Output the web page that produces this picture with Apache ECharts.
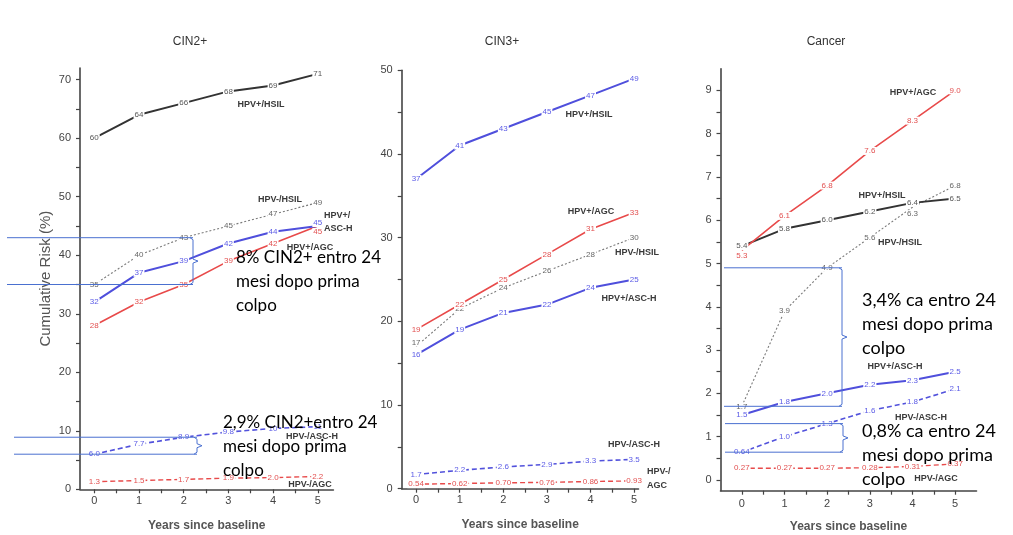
<!DOCTYPE html>
<html><head><meta charset="utf-8">
<script src="https://cdn.jsdelivr.net/npm/echarts@6/dist/echarts.min.js"></script>
<style>html,body{margin:0;padding:0;background:#fff}#c{width:1013px;height:535px}</style>
</head><body><div id="c"></div>
<script>
// ---------- DATA ----------
const years = [0, 1, 2, 3, 4, 5];
const xTickLabels = [0, 1, 2, 3, 4, 5];
const panelTitles = ['CIN2+', 'CIN3+', 'Cancer'];
const yTickLabels = [
  [0, 10, 20, 30, 40, 50, 60, 70],
  [0, 10, 20, 30, 40, 50],
  [0, 1, 2, 3, 4, 5, 6, 7, 8, 9]
];
// CIN2+
const cin2_hpvPosHSIL = [60, 64, 66, 68, 69, 71];
const cin2_hpvNegHSIL = [35, 40, 43, 45, 47, 49];
const cin2_hpvPosASCH = [32, 37, 39, 42, 44, 45];
const cin2_hpvPosAGC  = [28, 32, 35, 39, 42, 45];
const cin2_hpvNegASCH = [6.0, 7.7, 8.9, 9.8, 10.4, 10.7];
const cin2_hpvNegAGC  = [1.3, 1.5, 1.7, 1.9, 2.0, 2.2];
// CIN3+
const cin3_hpvPosHSIL = [37, 41, 43, 45, 47, 49];
const cin3_hpvPosAGC  = [19, 22, 25, 28, 31, 33];
const cin3_hpvNegHSIL = [17, 21.5, 24, 26, 28, 30];
const cin3_hpvPosASCH = [16, 19, 21, 22, 24, 25];
const cin3_hpvNegASCH = [1.7, 2.2, 2.6, 2.9, 3.3, 3.5];
const cin3_hpvNegAGC  = [0.54, 0.62, 0.70, 0.76, 0.86, 0.93];
// Cancer
const ca_hpvPosAGC  = [5.3, 6.1, 6.8, 7.6, 8.3, 9.0];
const ca_hpvPosHSIL = [5.4, 5.8, 6.0, 6.2, 6.4, 6.5];
const ca_hpvNegHSIL = [1.7, 3.9, 4.9, 5.6, 6.3, 6.8];
const ca_hpvPosASCH = [1.5, 1.8, 2.0, 2.2, 2.3, 2.5];
const ca_hpvNegASCH = [0.64, 1.0, 1.3, 1.6, 1.8, 2.1];
const ca_hpvNegAGC  = [0.27, 0.27, 0.27, 0.28, 0.31, 0.37];

// ---------- STYLE / LAYOUT ----------
const C = {
  black: {line: '#333333', label: '#555555', type: 'solid', width: 2},
  gray:  {line: '#7a7a7a', label: '#666666', type: [2, 2], width: 1.1},
  blue:  {line: '#4f4fdc', label: '#5b5be6', type: 'solid', width: 2},
  red:   {line: '#e84a4a', label: '#e25050', type: 'solid', width: 1.6},
  blueD: {line: '#5252dc', label: '#5b5be6', type: [5, 3], width: 1.6},
  redD:  {line: '#e84a4a', label: '#e25050', type: [5, 3], width: 1.4}
};
const grids = [
  {left: 80, top: 68, width: 253.4, height: 421.3, outerBoundsMode: 'none', containLabel: false},
  {left: 401.7, top: 70.2, width: 236.8, height: 418.5, outerBoundsMode: 'none', containLabel: false},
  {left: 720.5, top: 68.7, width: 256, height: 422, outerBoundsMode: 'none', containLabel: false}
];
const xRanges = [[-0.32, 5.35], [-0.33, 5.1], [-0.5, 5.5]];
const yRanges = [[0, 72], [0, 50], [-0.25, 9.5]];
const yTickStep = [5, 5, 0.5];
const xLabelMargin = [6, 6, 8];

function fmt(v) {
  if (v < 1) return v.toFixed(2);
  if (v < 10) return v.toFixed(1);
  return String(Math.round(v));
}
function range(a, b, s) { const r = []; for (let v = a; v <= b + 1e-9; v += s) r.push(+v.toFixed(3)); return r; }

function mk(g, values, st, offsets) {
  return {
    type: 'line', xAxisIndex: g, yAxisIndex: g, animation: false, silent: true,
    data: years.map((x, i) => {
      const d = {value: [x, values[i]]};
      if (offsets && offsets[i]) d.label = {offset: offsets[i]};
      return d;
    }),
    symbol: 'circle', symbolSize: 0.1, showSymbol: true,
    itemStyle: {color: st.line},
    lineStyle: {color: st.line, width: st.width, type: st.type},
    label: {
      show: true, position: 'inside', formatter: p => fmt(p.value[1]),
      color: st.label, fontSize: 8, fontFamily: 'Liberation Sans',
      backgroundColor: '#fff', padding: [0, 1]
    }
  };
}

const series = [
  mk(0, cin2_hpvNegAGC, C.redD),
  mk(0, cin2_hpvNegASCH, C.blueD),
  mk(0, cin2_hpvNegHSIL, C.gray),
  mk(0, cin2_hpvPosAGC, C.red, {5: [0, 6]}),
  mk(0, cin2_hpvPosASCH, C.blue, {5: [0, -3]}),
  mk(0, cin2_hpvPosHSIL, C.black),

  mk(1, cin3_hpvNegAGC, C.redD),
  mk(1, cin3_hpvNegASCH, C.blueD),
  mk(1, cin3_hpvNegHSIL, C.gray, {0: [0, -4]}),
  mk(1, cin3_hpvPosASCH, C.blue),
  mk(1, cin3_hpvPosAGC, C.red),
  mk(1, cin3_hpvPosHSIL, C.blue),

  mk(2, ca_hpvNegAGC, C.redD),
  mk(2, ca_hpvNegASCH, C.blueD),
  mk(2, ca_hpvNegHSIL, C.gray, {4: [0, 7]}),
  mk(2, ca_hpvPosASCH, C.blue),
  mk(2, ca_hpvPosHSIL, C.black),
  mk(2, ca_hpvPosAGC, C.red, {0: [0, 5]})
];

const axisColor = '#444';
const xAxes = grids.map((g, i) => ({
  type: 'value', gridIndex: i, min: xRanges[i][0], max: xRanges[i][1],
  axisLine: {onZero: false, lineStyle: {color: axisColor, width: 1.6}},
  axisTick: {customValues: range(0, 5, 0.5), length: 4, lineStyle: {color: axisColor, width: 1.2}},
  axisLabel: {customValues: xTickLabels, color: '#444', fontSize: 11, margin: xLabelMargin[i], fontFamily: 'Liberation Sans'},
  splitLine: {show: false},
  name: 'Years since baseline', nameLocation: 'middle', nameGap: 30,
  nameTextStyle: {fontSize: 12, fontWeight: 'bold', color: '#555', fontFamily: 'Liberation Sans'}
}));
const yAxes = grids.map((g, i) => ({
  type: 'value', gridIndex: i, min: yRanges[i][0], max: yRanges[i][1],
  axisLine: {show: true, onZero: false, lineStyle: {color: axisColor, width: 1.6}},
  axisTick: {show: true, customValues: range(yTickLabels[i][0], yTickLabels[i][yTickLabels[i].length - 1], yTickStep[i]), length: 4, lineStyle: {color: axisColor, width: 1.2}},
  axisLabel: {customValues: yTickLabels[i], color: '#444', fontSize: 11, margin: 9, fontFamily: 'Liberation Sans'},
  splitLine: {show: false},
  name: i === 0 ? 'Cumulative Risk (%)' : '', nameLocation: 'middle', nameGap: 27, nameRotate: 90,
  nameTextStyle: {fontSize: 15, color: '#555', fontFamily: 'Liberation Sans'}
}));

const chart = echarts.init(document.getElementById('c'), null, {renderer: 'canvas'});
chart.setOption({
  backgroundColor: '#fff', animation: false,
  grid: grids, xAxis: xAxes, yAxis: yAxes, series: series
});

// ---------- ANNOTATIONS ----------
const titlePos = [[190, 42], [502, 42], [826, 42]];
const seriesNameLabels = [
  {t: 'HPV+/HSIL', x: 261, y: 105}, {t: 'HPV-/HSIL', x: 280, y: 200},
  {t: 'HPV+/', x: 324, y: 216, a: 'left'}, {t: 'ASC-H', x: 324, y: 229, a: 'left'},
  {t: 'HPV+/AGC', x: 310, y: 248}, {t: 'HPV-/ASC-H', x: 312, y: 437}, {t: 'HPV-/AGC', x: 310, y: 485},
  {t: 'HPV+/HSIL', x: 589, y: 115}, {t: 'HPV+/AGC', x: 591, y: 212}, {t: 'HPV-/HSIL', x: 637, y: 253},
  {t: 'HPV+/ASC-H', x: 629, y: 299}, {t: 'HPV-/ASC-H', x: 634, y: 445},
  {t: 'HPV-/', x: 647, y: 472, a: 'left'}, {t: 'AGC', x: 647, y: 486, a: 'left'},
  {t: 'HPV+/AGC', x: 913, y: 93}, {t: 'HPV+/HSIL', x: 882, y: 196}, {t: 'HPV-/HSIL', x: 900, y: 243},
  {t: 'HPV+/ASC-H', x: 895, y: 367}, {t: 'HPV-/ASC-H', x: 921, y: 418}, {t: 'HPV-/AGC', x: 936, y: 479}
];
const brackets = [
  {g: 0, v: [cin2_hpvNegHSIL[2], cin2_hpvNegHSIL[0]], x0: 7, xb: 193},
  {g: 0, v: [cin2_hpvNegASCH[2], cin2_hpvNegASCH[0]], x0: 14, xb: 197},
  {g: 2, v: [ca_hpvNegHSIL[2], ca_hpvNegHSIL[0]], x0: 724, xb: 842},
  {g: 2, v: [ca_hpvNegASCH[2], ca_hpvNegASCH[0]], x0: 725, xb: 843}
];
const bigTexts = [
  {t: '8% CIN2+ entro 24\nmesi dopo prima\ncolpo', x: 236, y: 246, f: 17},
  {t: '2,9% CIN2+entro 24\nmesi dopo prima\ncolpo', x: 223, y: 411, f: 17},
  {t: '3,4% ca entro 24\nmesi dopo prima\ncolpo', x: 862, y: 288, f: 18},
  {t: '0,8% ca entro 24\nmesi dopo prima\ncolpo', x: 862, y: 419, f: 18}
];

const gfx = [];
panelTitles.forEach((t, i) => gfx.push({
  type: 'text', z: 50, style: {text: t, x: titlePos[i][0], y: titlePos[i][1], textAlign: 'center', textVerticalAlign: 'middle',
    font: '12px "Liberation Sans"', fill: '#333'}
}));
seriesNameLabels.forEach(l => gfx.push({
  type: 'text', z: 50, style: {text: l.t, x: l.x, y: l.y, textAlign: l.a || 'center', textVerticalAlign: 'middle',
    font: 'bold 9px "Liberation Sans"', fill: '#3a3a3a'}
}));
const bColor = '#4a70d0';
brackets.forEach(b => {
  const y1 = chart.convertToPixel({yAxisIndex: b.g}, b.v[0]);
  const y2 = chart.convertToPixel({yAxisIndex: b.g}, b.v[1]);
  const ym = (y1 + y2) / 2;
  const ls = {stroke: bColor, lineWidth: 1};
  gfx.push({type: 'line', z: 60, shape: {x1: b.x0, y1: y1, x2: b.xb, y2: y1}, style: ls});
  gfx.push({type: 'line', z: 60, shape: {x1: b.x0, y1: y2, x2: b.xb, y2: y2}, style: ls});
  gfx.push({type: 'polyline', z: 60, shape: {points: [[b.xb - 3, y1], [b.xb, y1 + 2], [b.xb, ym - 2], [b.xb + 5, ym], [b.xb, ym + 2], [b.xb, y2 - 2], [b.xb - 3, y2]]}, style: {stroke: bColor, lineWidth: 1, fill: null}});
});
bigTexts.forEach(t => gfx.push({
  type: 'text', z: 100, style: {text: t.t, x: t.x, y: t.y, textAlign: 'left', textVerticalAlign: 'top',
    font: t.f + 'px Lato', lineHeight: 24, fill: '#000'}
}));
chart.setOption({graphic: gfx});
</script>
</body></html>
